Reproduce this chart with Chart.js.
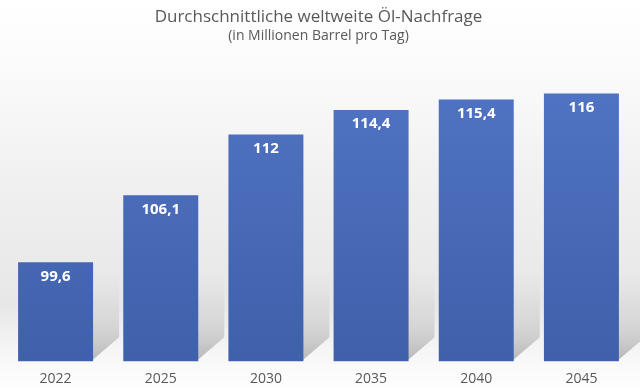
<!DOCTYPE html>
<html lang="de">
<head>
    <meta charset="UTF-8">
    <title>Durchschnittliche weltweite Öl-Nachfrage</title>
    <style>
        html, body {
            margin: 0;
            padding: 0;
            width: 640px;
            height: 391px;
            overflow: hidden;
        }
        body {
            background: linear-gradient(to bottom, #ffffff 0%, #fafafa 20%, #efefef 50%, #e7e7e7 78%, #f6f6f6 90%, #ffffff 100%);
        }
        .wrap {
            position: relative;
            width: 640px;
            height: 391px;
        }
    </style>
</head>
<body>
    <div class="wrap">
        <canvas id="oilChart"></canvas>
    </div>
    <script src="https://cdn.jsdelivr.net/npm/chart.js@4/dist/chart.umd.min.js"></script>
    <script>
        const years = ['2022', '2025', '2030', '2035', '2040', '2045'];
        const demand = [99.6, 106.1, 112, 114.4, 115.4, 116];
        const yMin = 90;
        const yMax = 120;

        const textGrey = '#595959';

        // gradient fill for the bars, darker towards the bottom
        const barFill = (context) => {
            const area = context.chart.chartArea;
            if (!area) return '#4a6bb8';
            const g = context.chart.ctx.createLinearGradient(0, area.top, 0, area.bottom);
            g.addColorStop(0, '#5275c6');
            g.addColorStop(1, '#3f60aa');
            return g;
        };

        // soft slanted shadow at the lower right of every bar
        const barShadow = {
            id: 'barShadow',
            beforeDatasetsDraw(chart) {
                const ctx = chart.ctx;
                const meta = chart.getDatasetMeta(0);
                const bottom = chart.scales.y.getPixelForValue(yMin);
                meta.data.forEach((bar) => {
                    const right = bar.x + bar.width / 2;
                    const g = ctx.createLinearGradient(0, bottom, 0, bottom - 90);
                    g.addColorStop(0, 'rgba(140,140,140,0.6)');
                    g.addColorStop(0.4, 'rgba(170,170,170,0.35)');
                    g.addColorStop(1, 'rgba(210,210,210,0)');
                    ctx.save();
                    ctx.fillStyle = g;
                    ctx.beginPath();
                    ctx.moveTo(right - 2, bottom);
                    ctx.lineTo(right + 26, bottom - 24);
                    ctx.lineTo(right + 26, bottom - 90);
                    ctx.lineTo(right - 2, bottom - 90);
                    ctx.closePath();
                    ctx.fill();
                    ctx.restore();
                });
            }
        };

        // value labels inside the top of each bar, German decimal comma
        const valueLabels = {
            id: 'valueLabels',
            afterDatasetsDraw(chart) {
                const ctx = chart.ctx;
                const meta = chart.getDatasetMeta(0);
                ctx.save();
                ctx.fillStyle = '#ffffff';
                ctx.font = 'bold 15px "Open Sans", sans-serif';
                ctx.textAlign = 'center';
                ctx.textBaseline = 'middle';
                meta.data.forEach((bar, i) => {
                    const txt = String(demand[i]).replace('.', ',');
                    ctx.fillText(txt, bar.x, bar.y + 14);
                });
                ctx.restore();
            }
        };

        new Chart(document.getElementById('oilChart'), {
            type: 'bar',
            data: {
                labels: years,
                datasets: [{
                    data: demand,
                    backgroundColor: barFill,
                    borderWidth: 0,
                    barPercentage: 0.713,
                    categoryPercentage: 1
                }]
            },
            options: {
                responsive: true,
                maintainAspectRatio: false,
                animation: false,
                layout: {
                    padding: { left: 3, right: 6, top: 0, bottom: -5 }
                },
                plugins: {
                    legend: { display: false },
                    tooltip: { enabled: false },
                    title: {
                        display: true,
                        text: 'Durchschnittliche weltweite Öl-Nachfrage',
                        color: textGrey,
                        font: { family: '"Open Sans", sans-serif', size: 17, weight: 'normal' },
                        padding: { top: 7, bottom: 0 }
                    },
                    subtitle: {
                        display: true,
                        text: '(in Millionen Barrel pro Tag)',
                        color: textGrey,
                        font: { family: '"Open Sans", sans-serif', size: 14 },
                        padding: { top: 0, bottom: 8 }
                    }
                },
                scales: {
                    x: {
                        grid: { display: false, drawTicks: false },
                        border: { display: false },
                        ticks: {
                            color: textGrey,
                            padding: 9,
                            font: { family: '"Open Sans", sans-serif', size: 14 }
                        }
                    },
                    y: {
                        display: false,
                        min: yMin,
                        max: yMax
                    }
                }
            },
            plugins: [barShadow, valueLabels]
        });
    </script>
</body>
</html>
